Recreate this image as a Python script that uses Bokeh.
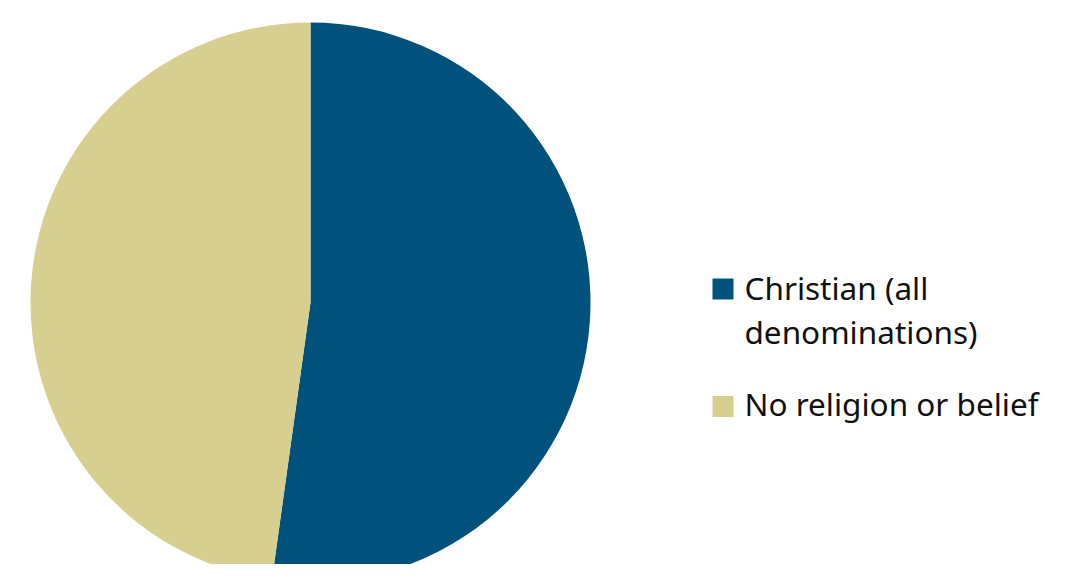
import math
from bokeh.plotting import figure
from bokeh.models import ColumnDataSource, Range1d
from bokeh.core.properties import value
from bokeh.embed import file_html
from bokeh.resources import INLINE

categories = ["Christian (all\ndenominations)", "No religion or belief"]
values = [52.2, 47.8]
colors = ["#00527c", "#d6cf8f"]

W, H = 1067, 564
p = figure(width=W, height=H, output_backend="svg", toolbar_location=None,
           x_range=Range1d(0, W), y_range=Range1d(0, H), min_border=0,
           outline_line_color=None)
p.axis.visible = False
p.grid.visible = False

# clockwise from 12 o'clock
total = sum(values)
starts, ends = [], []
acc = 0.0
for v in values:
    a0 = math.pi / 2 - 2 * math.pi * acc / total
    a1 = math.pi / 2 - 2 * math.pi * (acc + v) / total
    starts.append(a1)
    ends.append(a0)
    acc += v

src = ColumnDataSource(dict(start=starts, end=ends, color=colors))
cx, cy, r = 310, 262, 280
p.wedge(x=cx, y=cy, radius=r, start_angle="start", end_angle="end",
        fill_color="color", line_color=None, source=src)

# legend
font = value("Noto Sans")
fs = "31.5px"
sq = 21
sq_x = 712
sq_top = [275.5 + sq / 2, 158 + sq / 2]
text_y = [277, 161]
line_h = 44
for cat, col, st, ty in zip(categories, colors, sq_top, text_y):
    lines = cat.split("\n")
    p.rect(x=sq_x + sq / 2, y=st - sq / 2, width=sq, height=sq, fill_color=col, line_color=None)
    for i, ln in enumerate(lines):
        p.text(x=[744], y=[ty - i * line_h], text=[ln], text_font=font,
               text_font_size=fs, text_baseline="alphabetic", text_align="left",
               text_color="#111111")

open("out.html", "w").write(file_html(p, INLINE))
